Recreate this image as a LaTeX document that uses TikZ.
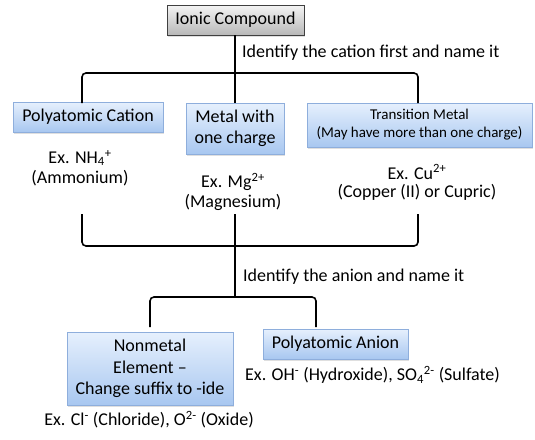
\documentclass[tikz,border=0pt]{standalone}
\usepackage{fontspec}
\setmainfont{Carlito}
\usetikzlibrary{shadows}
\definecolor{bluetop}{HTML}{E6F0FD}
\definecolor{bluebot}{HTML}{A8C7F0}
\definecolor{blueedge}{HTML}{8EAEDC}
\definecolor{graytop}{HTML}{F4F4F4}
\definecolor{graybot}{HTML}{B8B8B8}
\begin{document}
\begin{tikzpicture}[x=1pt,y=-1pt,
  bluebox/.style={draw=blueedge, line width=0.8pt, top color=bluetop, bottom color=bluebot,
    drop shadow={opacity=0.25, shadow xshift=1pt, shadow yshift=-1.5pt},
    align=center, inner sep=2pt, font=\fontsize{18}{21}\selectfont},
  graybox/.style={draw=black!75, line width=0.8pt, top color=graytop, bottom color=graybot,
    drop shadow={opacity=0.25, shadow xshift=1pt, shadow yshift=-1.5pt},
    align=center, inner sep=2pt, font=\fontsize{18}{21}\selectfont},
  txt/.style={align=center, inner sep=0pt, font=\fontsize{18}{20}\selectfont},
  conn/.style={line width=1.6pt, rounded corners=4pt}]
\useasboundingbox (0,0) rectangle (535,439);
% boxes
\node[graybox, minimum width=137pt, minimum height=30pt] (ionic) at (235.5,20) {Ionic Compound};
\node[bluebox, minimum width=150pt, minimum height=30pt] (pcat) at (88,117) {Polyatomic Cation};
\node[bluebox, minimum width=98pt, minimum height=51pt] (metal) at (235,128.5) {Metal with\\one charge};
\node[bluebox, minimum width=225pt, minimum height=44pt, font=\fontsize{15}{18}\selectfont] (trans) at (419.5,125) {Transition Metal\\(May have more than one charge)};
\node[bluebox, minimum width=166pt, minimum height=73pt, font=\fontsize{18}{21.5}\selectfont] (nonmetal) at (150,368.5) {Nonmetal\\Element --\\Change suffix to -ide};
\node[bluebox, minimum width=145pt, minimum height=30pt] (panion) at (335.5,344) {Polyatomic Anion};
% texts
\node[txt, anchor=west] (lab1) at (242,53) {Identify the cation first and name it};
\node[txt] (exnh) at (80,158) {Ex. NH\textsubscript{4}\textsuperscript{+}};
\node[txt] (amm) at (80,178) {(Ammonium)};
\node[txt] (exmg) at (233,182) {Ex. Mg\textsuperscript{2+}};
\node[txt] (mag) at (233,202) {(Magnesium)};
\node[txt] (excu) at (417,172) {Ex. Cu\textsuperscript{2+}};
\node[txt] (cop) at (417,192) {(Copper (II) or Cupric)};
\node[txt, anchor=west] (lab2) at (243,277) {Identify the anion and name it};
\node[txt, anchor=west] (exoh) at (245,375) {Ex. OH\textsuperscript{-} (Hydroxide), SO\textsubscript{4}\textsuperscript{2-} (Sulfate)};
\node[txt] (excl) at (149,420) {Ex. Cl\textsuperscript{-} (Chloride), O\textsuperscript{2-} (Oxide)};
% coordinates
\coordinate (ul) at (82,103);
\coordinate (ur) at (418,103);
\coordinate (uy) at (0,73);
\coordinate (tl) at (82,214);
\coordinate (tm) at (235,214);
\coordinate (tr) at (418,214);
\coordinate (my) at (0,246);
\coordinate (ly) at (0,297);
\coordinate (nl) at (150,327);
\coordinate (nr) at (316,327);
% connectors
\draw[conn] (ionic.south -| metal.north) -- (metal.north);
\draw[conn] (ul) -- (ul |- uy) -- (ur |- uy) -- (ur);
\draw[conn] (tl) -- (tl |- my) -- (tr |- my) -- (tr);
\draw[conn] (tm) -- (tm |- ly);
\draw[conn] (nl) -- (nl |- ly) -- (nr |- ly) -- (nr);
\end{tikzpicture}
\end{document}
